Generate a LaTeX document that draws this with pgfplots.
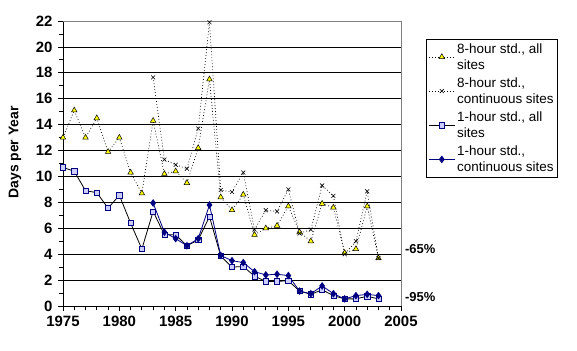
\documentclass[border=0pt]{standalone}
\usepackage{pgfplots}
\pgfplotsset{compat=1.18}
\usepackage{fontspec}
\setmainfont{Liberation Sans}
\definecolor{triyellow}{RGB}{255,255,0}
\definecolor{sqfill}{RGB}{204,204,255}
\definecolor{navy}{RGB}{0,0,128}
\begin{document}
\begin{tikzpicture}
\path[use as bounding box] (0,0) rectangle (577bp,351bp);
\begin{axis}[
  at={(63bp,45bp)}, anchor=south west,
  scale only axis, width=338bp, height=285bp,
  xmin=1975, xmax=2005, ymin=0, ymax=22,
  axis lines=left, axis line style={-, black},
  xtick={1975,1980,...,2005}, minor x tick num=4,
  ytick={0,2,...,22}, minor y tick num=1,
  tick align=outside,
  major tick length=5bp, minor tick length=4bp,
  tick style={black, line width=0.8pt},
  ymajorgrids, major grid style={black, line width=0.8pt},
  /pgf/number format/assume math mode=true,
  /pgf/number format/1000 sep={},
  ticklabel style={font=\bfseries\fontsize{15}{15}\selectfont},
  yticklabel style={xshift=-2bp},
  xticklabel style={yshift=-2bp},
  ylabel={Days per Year},
  ylabel style={font=\bfseries\fontsize{14}{14}\selectfont, at={(axis description cs:-0.142,0.539)}, anchor=center},
  clip=false,
  legend style={at={(axis description cs:1.074,0.937)}, anchor=north west,
    draw=black, line width=0.8pt, fill=white,
    font=\fontsize{13.5}{16}\selectfont,
    cells={align=left, anchor=west},
    row sep=3bp, inner xsep=2bp, inner ysep=2bp},
  legend image code/.code={\draw[mark repeat=2,mark phase=2] plot coordinates {(0bp,0bp) (13bp,0bp) (26bp,0bp)};},
]
\draw[gray, line width=0.8pt] (rel axis cs:0,1) -- (rel axis cs:1,1) -- (rel axis cs:1,0);
% 8-hour std., all sites
\addplot[black, line width=0.7pt, dash pattern=on 0.8bp off 2.2bp, mark=triangle*, mark size=3.2bp,
  mark options={solid, fill=triyellow, draw=black, line width=0.5pt}] coordinates {
(1975,13.0) (1976,15.1) (1977,13.0) (1978,14.5) (1979,11.9) (1980,13.0)
(1981,10.3) (1982,8.7) (1983,14.3) (1984,10.2) (1985,10.4) (1986,9.5)
(1987,12.2) (1988,17.5) (1989,8.4) (1990,7.4) (1991,8.6) (1992,5.5)
(1993,6.0) (1994,6.2) (1995,7.7) (1996,5.7) (1997,5.0) (1998,7.9)
(1999,7.6) (2000,4.1) (2001,4.4) (2002,7.7) (2003,3.7)};
\addlegendentry{8-hour std., all\\sites}
% 8-hour std., continuous sites
\addplot[black, line width=0.7pt, dash pattern=on 0.8bp off 2.2bp, mark=x, mark size=2.8bp,
  mark options={solid, draw=black, line width=0.6pt}] coordinates {
(1983,17.65) (1984,11.3) (1985,10.9) (1986,10.6) (1987,13.7) (1988,21.9)
(1989,8.95) (1990,8.8) (1991,10.3) (1992,5.9) (1993,7.4) (1994,7.3)
(1995,9.0) (1996,5.6) (1997,5.9) (1998,9.3) (1999,8.5) (2000,4.0)
(2001,5.0) (2002,8.85) (2003,3.7)};
\addlegendentry{8-hour std.,\\continuous sites}
% 1-hour std., all sites
\addplot[black, line width=0.8pt, mark=square*, mark size=2.6bp,
  mark options={fill=sqfill, draw=navy, line width=0.6pt}] coordinates {
(1975,10.7) (1976,10.4) (1977,8.9) (1978,8.75) (1979,7.55) (1980,8.55)
(1981,6.4) (1982,4.4) (1983,7.3) (1984,5.5) (1985,5.5) (1986,4.65)
(1987,5.1) (1988,6.9) (1989,3.85) (1990,3.0) (1991,3.05) (1992,2.3)
(1993,1.9) (1994,1.9) (1995,1.95) (1996,1.15) (1997,0.9) (1998,1.25)
(1999,0.8) (2000,0.55) (2001,0.55) (2002,0.75) (2003,0.55)};
\addlegendentry{1-hour std., all\\sites}
% 1-hour std., continuous sites
\addplot[navy, line width=0.8pt, mark=diamond*, mark size=3.2bp,
  mark options={fill=navy, draw=navy}] coordinates {
(1983,7.95) (1984,5.7) (1985,5.2) (1986,4.65) (1987,5.2) (1988,7.8)
(1989,3.9) (1990,3.5) (1991,3.35) (1992,2.65) (1993,2.4) (1994,2.45)
(1995,2.35) (1996,1.15) (1997,0.95) (1998,1.55) (1999,0.95) (2000,0.55)
(2001,0.8) (2002,0.9) (2003,0.8)};
\addlegendentry{1-hour std.,\\continuous sites}
\node[anchor=west, font=\bfseries\fontsize{13}{13}\selectfont, inner sep=0pt] at (axis cs:2005.35,4.4) {-65\%};
\node[anchor=west, font=\bfseries\fontsize{13}{13}\selectfont, inner sep=0pt] at (axis cs:2005.35,0.7) {-95\%};
\end{axis}
\end{tikzpicture}
\end{document}
